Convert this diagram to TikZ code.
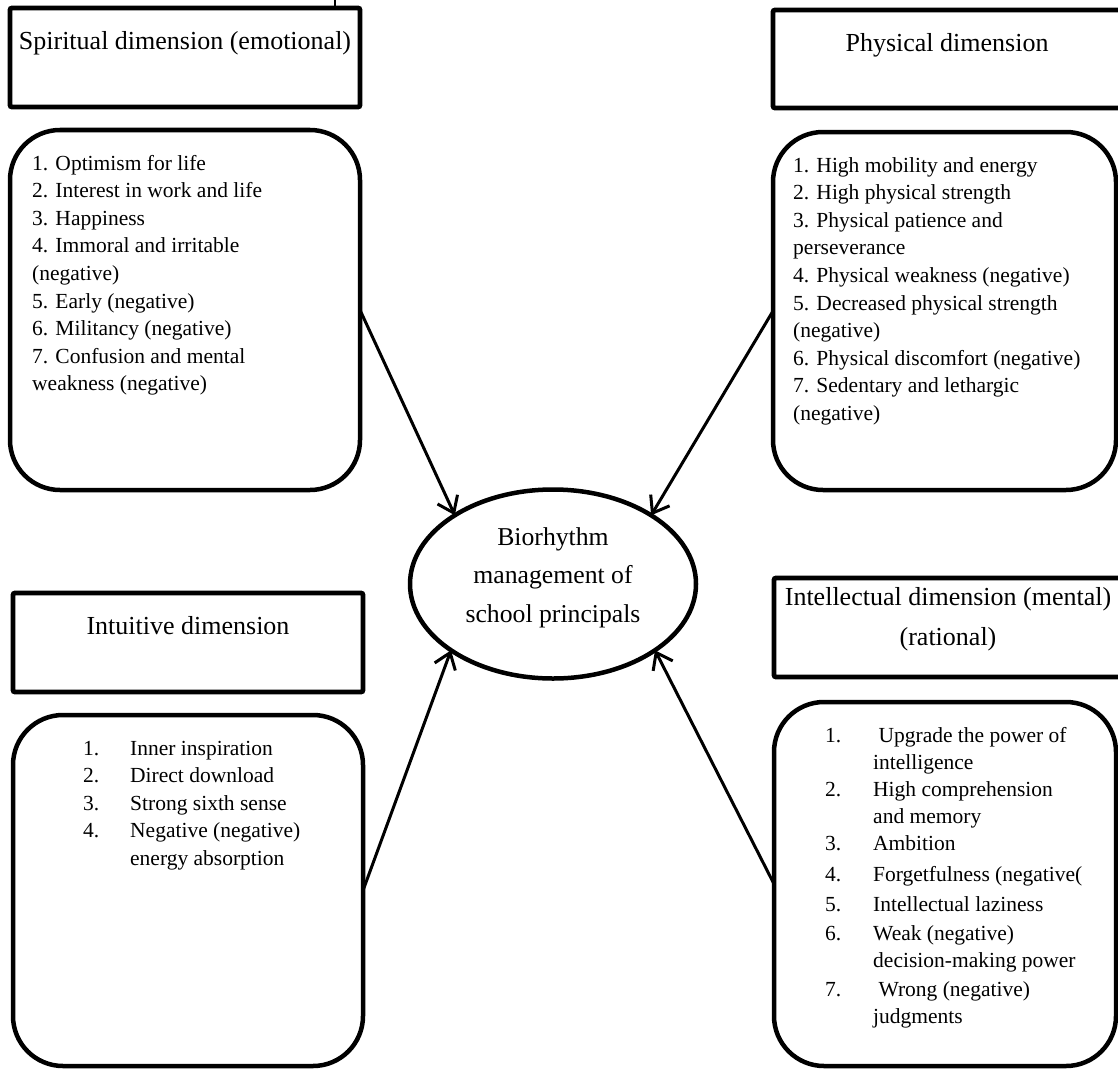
\documentclass[tikz,border=0pt]{standalone}
\usepackage{fontspec}
\setmainfont{Liberation Serif}
\usetikzlibrary{shapes.geometric,arrows.meta}
\begin{document}
\begin{tikzpicture}[x=1pt,y=-1pt,
  headbox/.style={draw, line width=4.8pt, rounded corners=2pt, inner sep=0pt, outer sep=0pt},
  listbox/.style={draw, line width=4.5pt, rounded corners=50pt, inner sep=0pt, outer sep=0pt},
  headtxt/.style={anchor=base, inner sep=0pt, font=\fontsize{26}{40}\selectfont},
  listtxt/.style={anchor=base west, inner sep=0pt, font=\fontsize{21.5}{27.6}\selectfont},
  arr/.style={line width=3pt, -{Straight Barb[length=15pt,width=22pt,line width=3pt]}}
]
\useasboundingbox (0,0) rectangle (1118,1070);
\fill[white] (0,0) rectangle (1118,1070);

% header rectangles
\node[headbox, minimum width=350pt, minimum height=99pt] (tlh) at (185,57.5) {};
\node[headbox, minimum width=352pt, minimum height=98pt] (trh) at (949,59) {};
\node[headbox, minimum width=350pt, minimum height=99pt] (blh) at (188,642.5) {};
\node[headbox, minimum width=351pt, minimum height=99pt] (brh) at (949.5,627.5) {};

\coordinate (tick) at (335,0);
\draw[line width=2pt] (tick) -- (tick |- tlh.north);

\node[headtxt] (tlht) at (185,50) {Spiritual dimension (emotional)};
\node[headtxt] (trht) at (947,52) {Physical dimension};
\node[headtxt] (blht) at (188,634) {Intuitive dimension};
\node[headtxt] (brht) at (948,605) {Intellectual dimension (mental)};
\node[headtxt] (brht2) at (948,645) {(rational)};

% list boxes
\node[listbox, minimum width=350pt, minimum height=360pt] (tlb) at (185,310) {};
\node[listbox, minimum width=343pt, minimum height=358pt] (trb) at (944.5,311) {};
\node[listbox, minimum width=350pt, minimum height=351pt] (blb) at (188,890.5) {};
\node[listbox, minimum width=342pt, minimum height=364pt] (brb) at (945,884) {};

\node[listtxt] (tlt) at (32,170) {\begin{tabular}[t]{@{}l@{}}
1. Optimism for life\\
2. Interest in work and life\\
3. Happiness\\
4. Immoral and irritable\\
(negative)\\
5. Early (negative)\\
6. Militancy (negative)\\
7. Confusion and mental\\
weakness (negative)
\end{tabular}};

\node[listtxt] (trt) at (793,172) {\begin{tabular}[t]{@{}l@{}}
1. High mobility and energy\\
2. High physical strength\\
3. Physical patience and\\
perseverance\\
4. Physical weakness (negative)\\
5. Decreased physical strength\\
(negative)\\
6. Physical discomfort (negative)\\
7. Sedentary and lethargic\\
(negative)
\end{tabular}};

\node[listtxt] (blt) at (83,755) {\begin{tabular}[t]{@{}p{47pt}@{}l@{}}
1. & Inner inspiration\\
2. & Direct download\\
3. & Strong sixth sense\\
4. & Negative (negative)\\
 & energy absorption
\end{tabular}};

\node[listtxt, font=\fontsize{21.5}{27}\selectfont] (brt) at (825,742) {\begin{tabular}[t]{@{}p{48pt}@{}l@{}}
1. & \hspace{0.25em}Upgrade the power of\\
 & intelligence\\
2. & High comprehension\\
 & and memory\\
3. & Ambition\\[4pt]
4. & Forgetfulness (negative(\\[3pt]
5. & Intellectual laziness\\[2pt]
6. & Weak (negative)\\
 & decision-making power\\[2pt]
7. & \hspace{0.25em}Wrong (negative)\\
 & judgments
\end{tabular}};

% central ellipse
\node[draw, ellipse, line width=4.5pt, minimum width=286pt, minimum height=189pt, inner sep=0pt, outer sep=0pt] (ell) at (553,584) {};
\node[anchor=base, inner sep=0pt, font=\fontsize{25.7}{38.5}\selectfont] (ellt) at (553,545) {\begin{tabular}[t]{@{}c@{}}
Biorhythm\\ management of\\ school principals
\end{tabular}};

% arrows
\draw[arr] (tlb.east) -- (ell.145);
\draw[arr] (trb.west) -- (ell.35);
\draw[arr] (blb.east) -- (ell.213);
\draw[arr] (brb.west) -- (ell.327);
\end{tikzpicture}
\end{document}
